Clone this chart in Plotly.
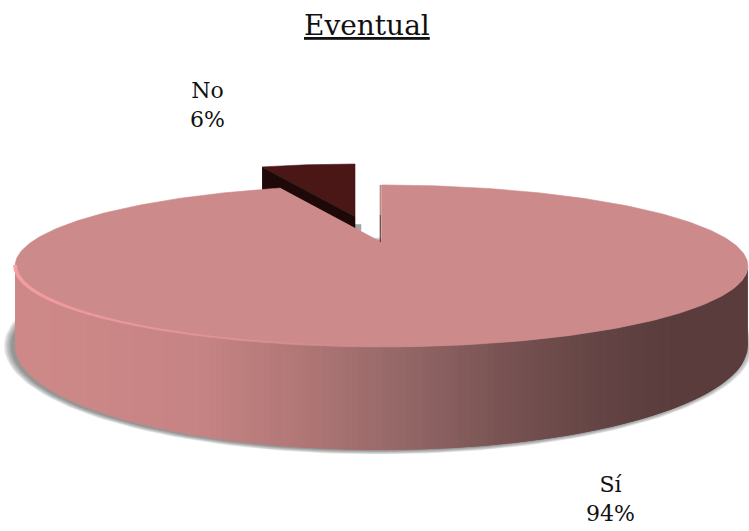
import numpy as np
import plotly.graph_objects as go

categories = ["Sí", "No"]
values = [94, 6]
title_text = "Eventual"

W, H = 749, 531
CX, AY = 381.5, 242.0      # apex of the pie on the page
A, B, K = 350.0, 73.9, 0.296  # perspective of the disc
DEPTH = 72.5
NO_APEX = (355.0, 216.5)
NO_SCALE = 0.92

FACE = "rgb(205,138,138)"
SIDE_STOPS = [(15, (207, 137, 137)), (200, (199, 132, 132)), (300, (178, 119, 119)),
              (400, (150, 104, 104)), (500, (122, 84, 84)), (600, (100, 68, 68)),
              (680, (90, 60, 60)), (749, (92, 60, 60))]
HL = np.array([250, 160, 166])
FACE_RGB = np.array([205, 138, 138])


def project(t, depth=0.0, r=1.0):
    u, v = r * np.sin(t), r * np.cos(t)
    d = 1 + K * v
    return CX + A * u / d, AY + (-B * v + depth) / d


def side_color(x):
    xs = [s[0] for s in SIDE_STOPS]
    c = [np.interp(x, xs, [s[1][i] for s in SIDE_STOPS]) for i in range(3)]
    return "rgb(%d,%d,%d)" % tuple(c)


def poly(xs, ys, color, lw=0.6):
    return go.Scatter(x=list(xs), y=list(ys), mode="lines", fill="toself", fillcolor=color,
                      line=dict(color=color, width=lw), hoverinfo="skip", showlegend=False)


fig = go.Figure()

si_sweep = 2 * np.pi * values[0] / sum(values)

# soft shadow under the disc
tt = np.linspace(0, 2 * np.pi, 240)
bx, by = project(tt, DEPTH)
bcx, bcy = (bx.max() + bx.min()) / 2, (by.max() + by.min()) / 2
for g in [8, 6.5, 5, 3.5, 2, 1]:
    sx = bcx - 3 + (bx - bcx) * (1 + g / 367)
    sy = bcy + 0.5 + (by - bcy) * (1 + g / 220)
    fig.add_trace(poly(sx, sy, "rgba(90,90,90,0.15)", 0))

# "No" slice, pulled out
no_t = np.linspace(si_sweep, 2 * np.pi, 30)
nx, ny = project(no_t, 0, 1.0)
nbx, nby = project(no_t, DEPTH)
ox, oy = NO_APEX
fx = ox + (nx - CX) * NO_SCALE
fy = oy + (ny - AY) * NO_SCALE
wx0, wy0 = fx[0], fy[0]
wbx = ox + (nbx[0] - CX) * NO_SCALE
wby = oy + (nby[0] - AY) * NO_SCALE
fig.add_trace(poly([ox, ox + 6, ox + 6, ox], [oy + 8, oy + 8, oy + 14, oy + 14], "rgb(165,165,165)"))
fig.add_trace(poly(np.r_[fx, ox], np.r_[fy, oy], "rgb(74,22,22)"))
fig.add_trace(poly([wx0, ox, ox, wbx], [wy0, oy, oy + DEPTH * 0.3, wby], "rgb(30,8,8)"))

# side wall of the large slice: overlapping strips of equal width on the page
t_left = 2 * np.pi - np.arccos(-K)
t_right = np.arccos(-K)
fine = np.linspace(t_right, t_left, 2000)
fx_all = project(fine)[0]
page_edges = np.linspace(fx_all.max(), fx_all.min(), 125)
edges = np.interp(-page_edges, -fx_all, fine)
n = len(edges)
for i in range(n - 1):
    a, b = edges[i], edges[min(i + 2, n - 1)]
    seg = np.linspace(a, b, 8)
    xt, yt = project(seg)
    xb, yb = project(seg, DEPTH)
    mid = 0.5 * (page_edges[i] + page_edges[i + 1])
    fig.add_trace(poly(np.r_[xt, xb[::-1]], np.r_[yt, yb[::-1]], side_color(mid), 0))

# top face of the large slice
si_t = np.linspace(0, si_sweep, 360)
sx, sy = project(si_t)
fig.add_trace(poly(np.r_[CX, sx], np.r_[AY, sy], FACE))

# dark cut edge along the gap, darker towards the apex
ex, ey = project(np.array([0.0]))
for y0, y1, col in [(ey[0], ey[0] + 30, "rgb(175,125,125)"), (ey[0] + 30, AY, "rgb(95,65,65)")]:
    fig.add_trace(go.Scatter(x=[CX - 1.2, CX - 1.2], y=[y0, y1], mode="lines",
                             line=dict(color=col, width=1.2),
                             hoverinfo="skip", showlegend=False))

# bevel on the front rim, fading out towards the middle
hl_edges = np.linspace(t_left, np.pi * 1.03, 46)
for i, (a, b) in enumerate(zip(hl_edges[:-1], hl_edges[1:])):
    p = i / 45
    f = (1 - p) ** 0.55
    c = FACE_RGB + (HL - FACE_RGB) * f
    seg = np.linspace(a, b, 4)
    xt, yt = project(seg, -0.8)
    fig.add_trace(go.Scatter(x=xt, y=yt, mode="lines",
                             line=dict(color="rgb(%d,%d,%d)" % tuple(c), width=4 - 3 * p),
                             hoverinfo="skip", showlegend=False))

FONT = "DejaVu Serif"
label_pos = {"No": (207, 105), "Sí": (610, 499)}
for cat, val in zip(categories, values):
    px, py = label_pos[cat]
    fig.add_annotation(x=px, y=py, text=f"{cat}<br>{val}%", showarrow=False,
                       font=dict(family=FONT, size=22, color="#111"), align="center")
fig.add_annotation(x=367, y=25, text=f"<u>{title_text}</u>", showarrow=False,
                   font=dict(family=FONT, size=28, color="#111"))

fig.update_xaxes(range=[0, W], visible=False, fixedrange=True)
fig.update_yaxes(range=[H, 0], visible=False, fixedrange=True)
fig.update_layout(width=W, height=H, margin=dict(l=0, r=0, t=0, b=0),
                  paper_bgcolor="white", plot_bgcolor="white", showlegend=False)
fig.write_html("out.html", config={"displayModeBar": False},
               post_script="document.body.style.margin='0';document.body.style.overflow='hidden';")
